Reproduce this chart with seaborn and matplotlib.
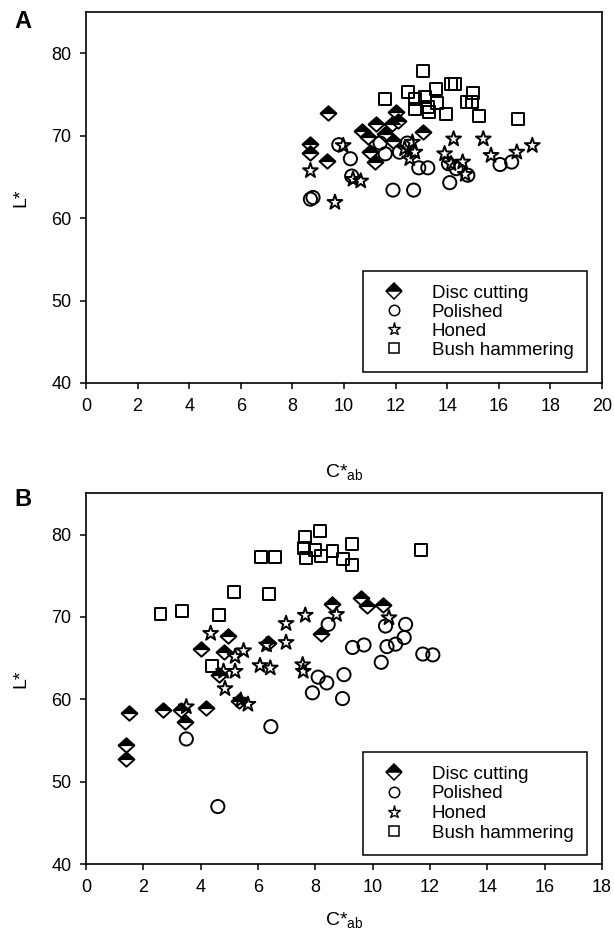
import numpy as np
import pandas as pd
import matplotlib
matplotlib.use("Agg")
import matplotlib.pyplot as plt
import seaborn as sns
from matplotlib.path import Path
from matplotlib.lines import Line2D

# ---------------- data ----------------
categories = ["Disc cutting", "Polished", "Honed", "Bush hammering"]

# Panel A
a_disc_x = [8.7, 8.7, 9.4, 9.35, 10.7, 11.25, 10.95, 11.85, 12.0, 12.1, 11.0, 11.2, 13.05, 11.9, 11.6]
a_disc_y = [69.0, 67.9, 72.8, 66.9, 70.6, 71.4, 69.8, 71.4, 72.9, 71.8, 68.0, 66.8, 70.4, 69.4, 70.2]

a_pol_x = [8.7, 8.8, 9.8, 10.25, 10.3, 11.4, 11.6, 12.15, 12.45, 12.9, 13.25, 11.9, 12.7, 14.05, 14.1, 14.8, 16.05, 16.5, 14.35]
a_pol_y = [62.3, 62.5, 68.9, 67.2, 65.1, 69.1, 67.8, 68.0, 69.1, 66.1, 66.1, 63.4, 63.4, 66.6, 64.3, 65.2, 66.5, 66.8, 66.0]

a_hon_x = [8.7, 9.65, 9.97, 10.35, 10.65, 12.65, 12.35, 12.75, 12.55, 14.25, 15.4, 15.7, 16.7, 17.3, 13.9, 14.15, 14.6, 14.7]
a_hon_y = [65.75, 61.9, 68.8, 64.7, 64.5, 69.2, 68.4, 68.0, 67.2, 69.6, 69.6, 67.6, 68.0, 68.8, 67.8, 66.6, 66.8, 65.3]

a_bush_x = [13.05, 13.55, 14.15, 14.3, 15.0, 14.75, 14.95, 15.25, 16.75, 13.95, 13.6, 13.15, 13.25, 11.6, 12.5, 12.75, 12.75, 13.3]
a_bush_y = [77.9, 75.7, 76.3, 76.3, 75.2, 74.1, 74.1, 72.4, 72.0, 72.6, 74.0, 74.7, 73.5, 74.5, 75.3, 74.5, 73.2, 72.9]

# Panel B
b_disc_x = [1.5, 1.4, 1.4, 2.7, 3.3, 3.45, 4.2, 4.0, 4.95, 4.8, 4.65, 6.35, 5.35, 8.6, 9.6, 9.8, 10.35, 8.2]
b_disc_y = [58.4, 54.5, 52.8, 58.7, 58.7, 57.3, 58.9, 66.1, 67.7, 65.7, 62.9, 66.9, 59.8, 71.6, 72.3, 71.3, 71.4, 67.9]

b_pol_x = [3.5, 4.6, 6.45, 7.9, 8.1, 8.4, 9.0, 8.95, 9.3, 9.7, 10.3, 10.5, 10.8, 11.1, 11.75, 12.1, 8.45, 10.45, 11.15]
b_pol_y = [55.2, 47.0, 56.7, 60.8, 62.7, 62.0, 63.0, 60.1, 66.3, 66.6, 64.5, 66.4, 66.7, 67.5, 65.5, 65.4, 69.1, 68.9, 69.1]

b_hon_x = [3.5, 4.35, 5.2, 5.5, 4.8, 5.2, 4.85, 5.4, 5.65, 6.07, 6.43, 6.3, 6.98, 6.98, 7.65, 7.56, 7.58, 8.74, 10.57]
b_hon_y = [59.1, 68.0, 65.2, 65.9, 63.4, 63.4, 61.3, 59.9, 59.4, 64.1, 63.8, 66.6, 69.2, 66.9, 70.2, 64.2, 63.4, 70.3, 69.9]

b_bush_x = [2.6, 3.35, 4.65, 5.15, 6.4, 6.1, 6.6, 4.4, 7.65, 8.15, 7.6, 8.0, 7.67, 8.2, 8.6, 8.95, 9.27, 9.27, 11.7]
b_bush_y = [70.4, 70.7, 70.2, 73.0, 72.8, 77.3, 77.3, 64.1, 79.7, 80.4, 78.4, 78.1, 77.2, 77.4, 78.0, 77.0, 78.8, 76.3, 78.1]

x_label = "C*$_{\\mathregular{ab}}$"
y_label = "L*"
panel_labels = ["A", "B"]

# ---------------- style ----------------
sns.set_style("ticks")
plt.rcParams["font.family"] = ["Liberation Sans", "DejaVu Sans"]
plt.rcParams["mathtext.fontset"] = "custom"
plt.rcParams["mathtext.rm"] = "Liberation Sans"
plt.rcParams["mathtext.it"] = "Liberation Sans:italic"
for k in ["text.color", "axes.labelcolor", "xtick.color", "ytick.color", "axes.edgecolor"]:
    plt.rcParams[k] = "black"

diamond = Path([(0, 1), (1.1, 0), (0, -1), (-1.1, 0), (0, 1)],
               [Path.MOVETO, Path.LINETO, Path.LINETO, Path.LINETO, Path.CLOSEPOLY])
top_half = Path([(-1.1, 0), (0, 1), (1.1, 0), (-1.1, 0)],
                [Path.MOVETO, Path.LINETO, Path.LINETO, Path.CLOSEPOLY])

EW = 1.4


def draw_panel(ax, disc, pol, hon, bush, xmax, xpad):
    df_d = pd.DataFrame({"x": disc[0], "y": disc[1]})
    df_p = pd.DataFrame({"x": pol[0], "y": pol[1]})
    df_h = pd.DataFrame({"x": hon[0], "y": hon[1]})
    df_b = pd.DataFrame({"x": bush[0], "y": bush[1]})
    sns.scatterplot(data=df_d, x="x", y="y", ax=ax, marker=diamond, s=130,
                    facecolor="white", edgecolor="black", linewidth=EW, zorder=3)
    sns.scatterplot(data=df_d, x="x", y="y", ax=ax, marker=top_half, s=130,
                    facecolor="black", edgecolor="black", linewidth=EW * 0.6, zorder=3)
    sns.scatterplot(data=df_p, x="x", y="y", ax=ax, marker="o", s=90,
                    facecolor="none", edgecolor="black", linewidth=EW, zorder=4)
    sns.scatterplot(data=df_h, x="x", y="y", ax=ax, marker="*", s=125,
                    facecolor="none", edgecolor="black", linewidth=EW, zorder=4)
    sns.scatterplot(data=df_b, x="x", y="y", ax=ax, marker="s", s=74,
                    facecolor="none", edgecolor="black", linewidth=EW, zorder=4)

    ax.set_xlim(0, xmax)
    ax.set_ylim(40, 85)
    ax.set_xticks(np.arange(0, xmax + 1, 2))
    ax.set_yticks([40, 50, 60, 70, 80])
    ax.tick_params(axis="both", direction="out", length=4.5, width=1.1,
                   labelsize=13, pad=6, top=False, right=False, colors="black")
    for sp in ax.spines.values():
        sp.set_visible(True)
        sp.set_linewidth(1.2)
        sp.set_color("black")
    ax.set_xlabel(x_label, fontsize=14, labelpad=xpad)
    ax.set_ylabel(y_label, fontsize=14, labelpad=16)

    handles = [
        Line2D([0], [0], marker="D", linestyle="none", markersize=8.5,
               markerfacecolor="black", markerfacecoloralt="white", fillstyle="top",
               markeredgecolor="black", markeredgewidth=1.1),
        Line2D([0], [0], marker="o", linestyle="none", markersize=7.5,
               markerfacecolor="none", markeredgecolor="black", markeredgewidth=1.1),
        Line2D([0], [0], marker="*", linestyle="none", markersize=9.5,
               markerfacecolor="none", markeredgecolor="black", markeredgewidth=1.0),
        Line2D([0], [0], marker="s", linestyle="none", markersize=7,
               markerfacecolor="none", markeredgecolor="black", markeredgewidth=1.1),
    ]
    return handles


fig = plt.figure(figsize=(6.14, 9.38), dpi=100)
axA = fig.add_axes([0.140, 0.5917, 0.8404, 0.3955])
axB = fig.add_axes([0.140, 0.0786, 0.8404, 0.3955])

hA = draw_panel(axA, (a_disc_x, a_disc_y), (a_pol_x, a_pol_y),
                (a_hon_x, a_hon_y), (a_bush_x, a_bush_y), 20, 34)
hB = draw_panel(axB, (b_disc_x, b_disc_y), (b_pol_x, b_pol_y),
                (b_hon_x, b_hon_y), (b_bush_x, b_bush_y), 18, 10)

for ax, h, anchor, ls in [(axA, hA, (0.536, 0.03), 0.1), (axB, hB, (0.536, 0.025), 0.14)]:
    leg = ax.legend(h, categories, loc="lower left", bbox_to_anchor=anchor,
                    fontsize=13.5, frameon=True, fancybox=False, shadow=False,
                    edgecolor="black", framealpha=1, borderpad=0.7,
                    handlelength=2.0, handletextpad=1.0, labelspacing=ls,
                    borderaxespad=0)
    leg.get_frame().set_linewidth(1.1)
    for t in leg.get_texts():
        t.set_color("black")

fig.text(22.5 / 614, 1 - 22 / 938, panel_labels[0], fontsize=17, fontweight="bold",
         ha="center", va="center")
fig.text(22.5 / 614, 1 - 499 / 938, panel_labels[1], fontsize=17, fontweight="bold",
         ha="center", va="center")

fig.savefig("out.png", dpi=100)
